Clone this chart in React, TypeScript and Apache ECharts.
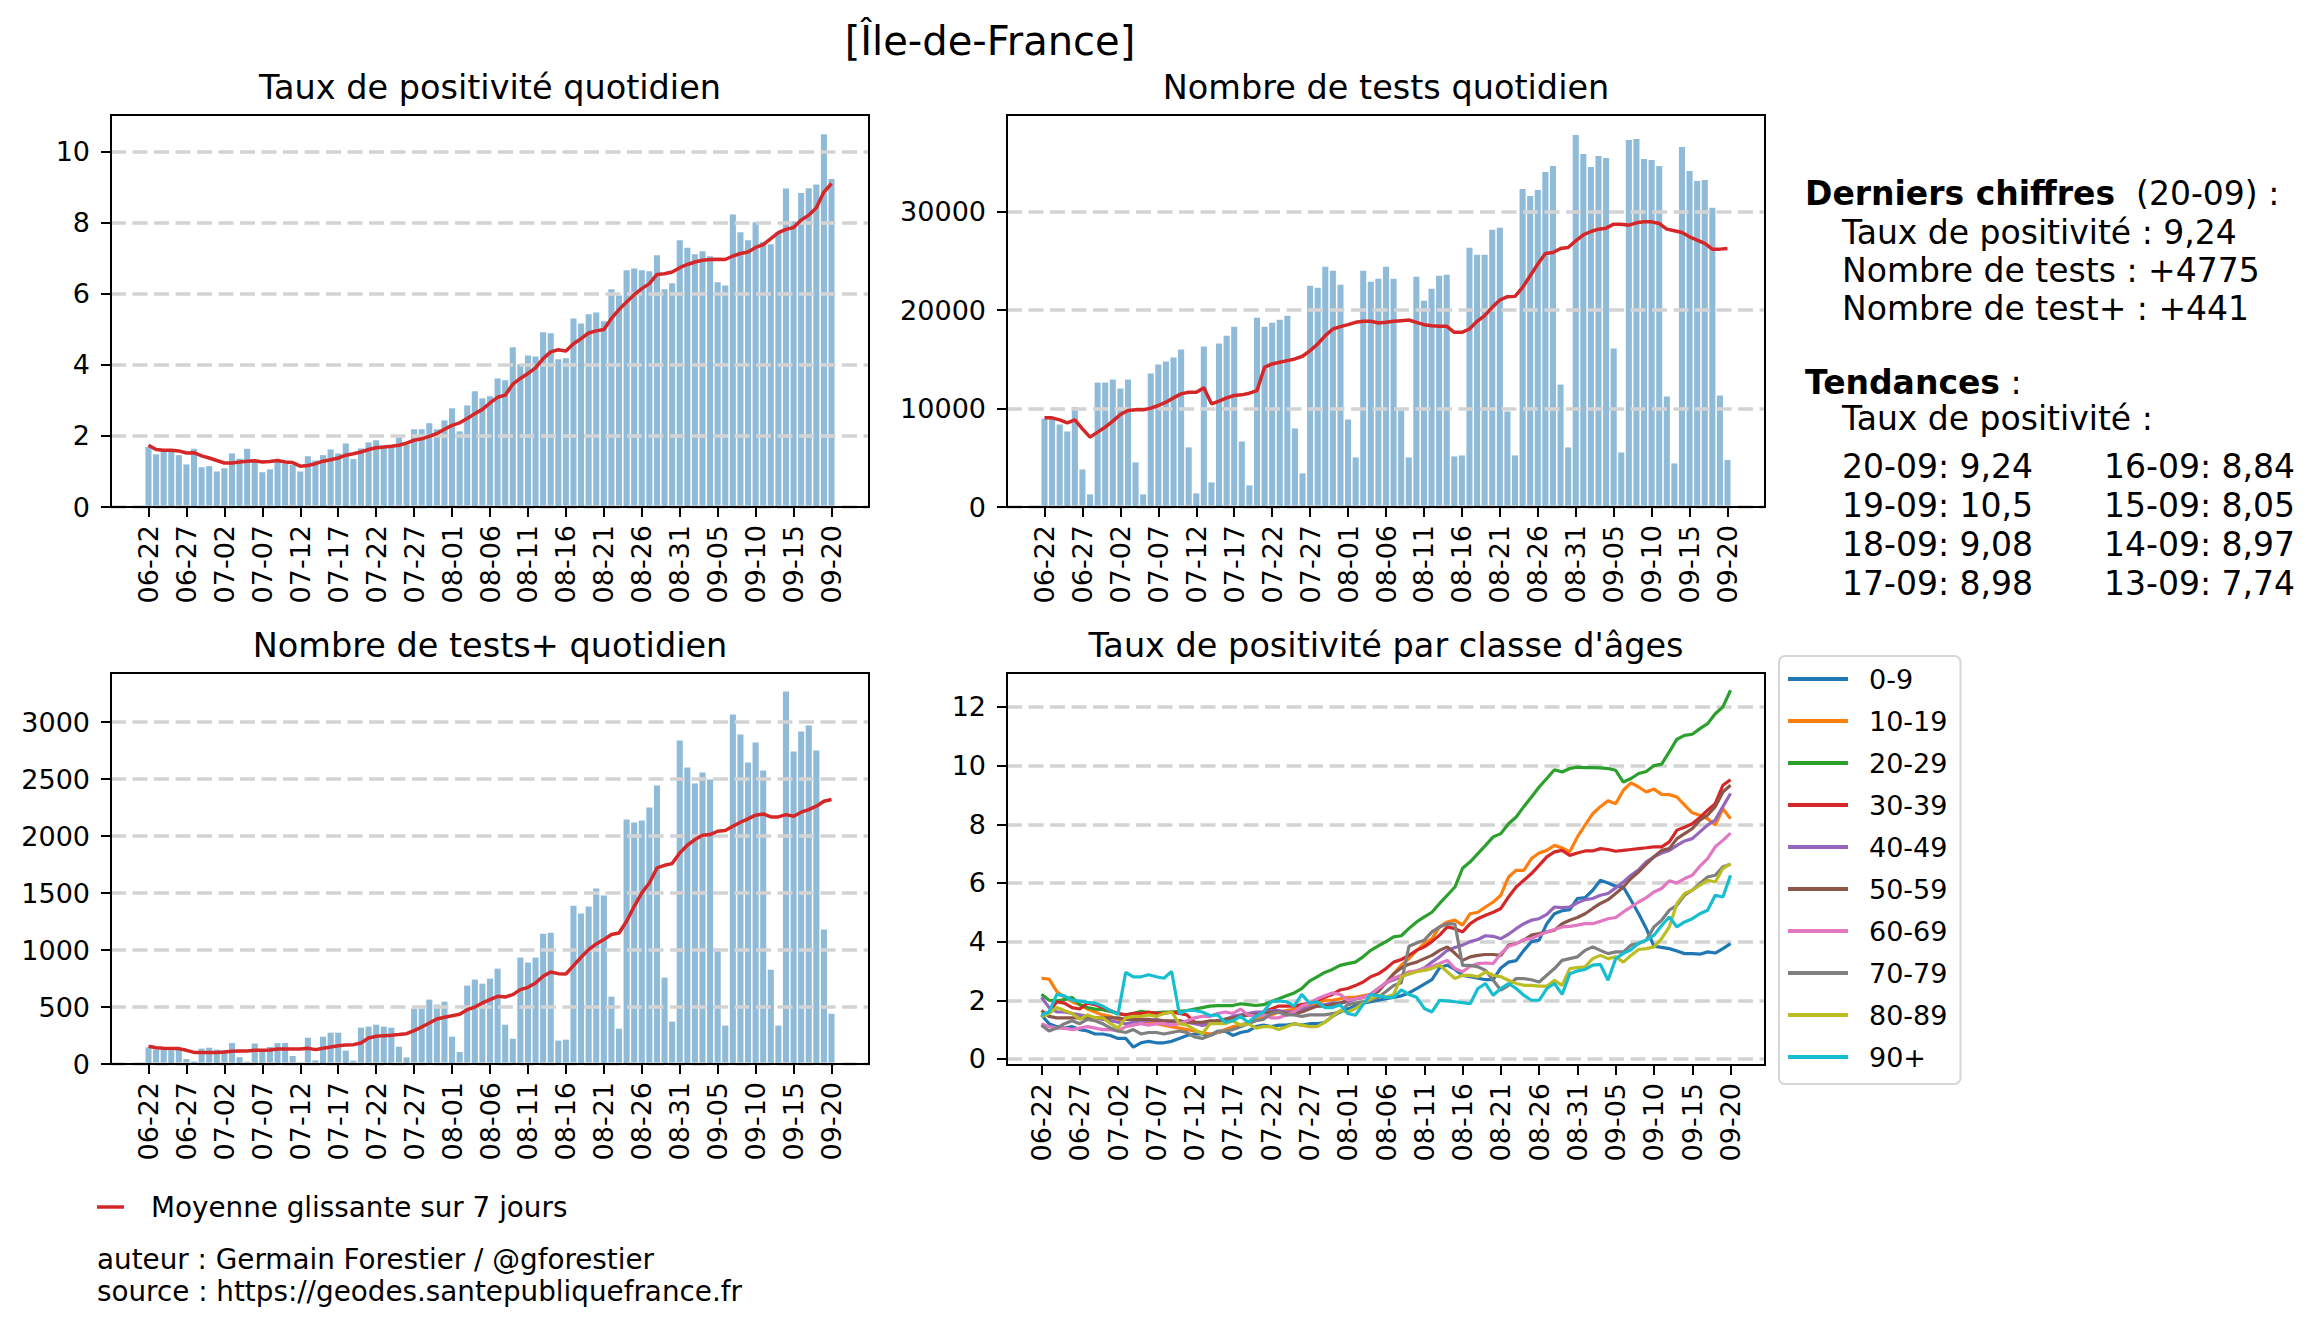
import React, { useEffect, useRef } from "react";
import * as echarts from "echarts";

// ---------- DATA ----------
const START = Date.UTC(2020, 5, 22);
const dates: string[] = Array.from({ length: 91 }, (_, i) => {
  const d = new Date(START + i * 86400000);
  return `${String(d.getUTCMonth() + 1).padStart(2, "0")}-${String(d.getUTCDate()).padStart(2, "0")}`;
});
const xTickIndex = [0, 5, 10, 15, 20, 25, 30, 35, 40, 45, 50, 55, 60, 65, 70, 75, 80, 85, 90];

const tauxTicks = [0, 2, 4, 6, 8, 10];
const testsTicks = [0, 10000, 20000, 30000];
const posTicks = [0, 500, 1000, 1500, 2000, 2500, 3000];
const ageTicks = [0, 2, 4, 6, 8, 10, 12];

const tauxPositivite = [
  1.69, 1.48, 1.6, 1.6, 1.46, 1.2, 1.64, 1.12, 1.15, 1.0,
  1.09, 1.51, 1.36, 1.64, 1.27, 0.98, 1.06, 1.29, 1.22, 1.19,
  1.0, 1.43, 1.31, 1.46, 1.62, 1.51, 1.79, 1.35, 1.65, 1.82,
  1.88, 1.66, 1.72, 1.96, 1.76, 2.19, 2.19, 2.36, 2.19, 2.44,
  2.78, 2.13, 2.86, 3.26, 3.06, 3.12, 3.62, 3.57, 4.5, 4.02,
  4.27, 4.24, 4.92, 4.89, 4.16, 4.19, 5.31, 5.17, 5.43, 5.48,
  5.23, 6.13, 5.96, 6.67, 6.72, 6.67, 6.64, 7.09, 6.13, 6.3,
  7.51, 7.3, 7.12, 7.2, 7.06, 6.33, 6.24, 8.24, 7.74, 7.51,
  8.02, 7.46, 7.4, 7.74, 8.97, 8.05, 8.84, 8.98, 9.08, 10.5,
  9.24,
];
const tauxMoyenne = [
  1.74, 1.62, 1.6, 1.6, 1.58, 1.52, 1.53, 1.44, 1.38, 1.31,
  1.24, 1.24, 1.27, 1.29, 1.3, 1.27, 1.28, 1.31, 1.27, 1.25,
  1.15, 1.17, 1.22, 1.29, 1.33, 1.38, 1.46, 1.5, 1.55, 1.62,
  1.67, 1.69, 1.71, 1.74, 1.8, 1.88, 1.92, 1.99, 2.07, 2.19,
  2.3, 2.37, 2.49, 2.63, 2.75, 2.93, 3.09, 3.15, 3.46, 3.62,
  3.76, 3.92, 4.18, 4.37, 4.43, 4.39, 4.6, 4.74, 4.9, 4.96,
  5.0, 5.31, 5.56, 5.77, 5.98, 6.15, 6.29, 6.55, 6.57, 6.62,
  6.74, 6.83, 6.9, 6.95, 6.97, 6.98, 6.97, 7.07, 7.14, 7.18,
  7.31, 7.39, 7.56, 7.73, 7.82, 7.87, 8.08, 8.22, 8.43, 8.87,
  9.11,
];

const nbTests = [
  8953, 8953, 8378, 7669, 10135, 3818, 1284, 12635, 12635, 12939,
  12027, 12939, 4527, 1284, 13547, 14459, 14763, 15169, 15980, 6047,
  1385, 16284, 2500, 16588, 17399, 18311, 6655, 2196, 19223, 18311,
  18716, 19020, 19426, 7973, 3412, 22466, 22263, 24392, 23986, 22568,
  8885, 5034, 23986, 22872, 23176, 24392, 23176, 9797, 5034, 23378,
  20946, 22162, 23480, 23581, 5135, 5236, 26318, 25608, 25608, 28142,
  28345, 9696, 5236, 32297, 31588, 32196, 34020, 34628, 12432, 6047,
  37770, 35845, 34527, 35642, 35439, 16081, 5541, 37264, 37365, 35338,
  35236, 34628, 11216, 4426, 36554, 34122, 33108, 33209, 30372, 11318,
  4775,
];
const nbTestsMoyenne = [
  9054, 9054, 8851, 8547, 8851, 7939, 7095, 7601, 8108, 8716,
  9392, 9797, 9865, 9865, 10034, 10304, 10642, 11081, 11486, 11655,
  11655, 12095, 10473, 10743, 11081, 11318, 11385, 11554, 11824, 14189,
  14527, 14696, 14865, 15034, 15304, 15878, 16554, 17399, 18074, 18311,
  18514, 18750, 18851, 18851, 18682, 18750, 18851, 18919, 18986, 18750,
  18514, 18412, 18345, 18345, 17736, 17736, 18074, 18851, 19426, 20270,
  21014, 21351, 21385, 22297, 23480, 24662, 25743, 25845, 26250, 26351,
  27027, 27635, 27973, 28209, 28311, 28716, 28716, 28615, 28851, 28953,
  28953, 28784, 28209, 28041, 27872, 27432, 27095, 26757, 26182, 26182,
  26250,
];

const nbPositifs = [
  146, 126, 126, 120, 126, 44, 21, 135, 143, 126,
  120, 184, 60, 21, 179, 126, 149, 184, 184, 70,
  14, 231, 32, 240, 275, 275, 117, 29, 319, 328,
  345, 328, 319, 152, 58, 486, 486, 565, 521, 547,
  240, 105, 688, 741, 705, 749, 837, 345, 222, 934,
  890, 934, 1144, 1153, 205, 214, 1390, 1320, 1382, 1540,
  1478, 591, 310, 2146, 2119, 2137, 2251, 2444, 758, 372,
  2839, 2602, 2462, 2558, 2497, 1013, 337, 3068, 2892, 2646,
  2822, 2576, 828, 337, 3269, 2743, 2918, 2971, 2751, 1180,
  441,
];
const nbPositifsMoyenne = [
  155, 143, 138, 135, 135, 120, 102, 102, 102, 102,
  105, 111, 114, 114, 120, 120, 123, 132, 132, 132,
  132, 138, 126, 138, 149, 161, 167, 170, 184, 228,
  243, 249, 252, 258, 266, 293, 325, 360, 395, 410,
  424, 436, 477, 500, 536, 565, 594, 588, 609, 653,
  673, 711, 770, 808, 793, 790, 863, 937, 1004, 1054,
  1092, 1136, 1150, 1253, 1384, 1502, 1589, 1721, 1744, 1759,
  1853, 1920, 1970, 2008, 2014, 2043, 2049, 2087, 2122, 2151,
  2184, 2195, 2169, 2169, 2189, 2175, 2210, 2233, 2263, 2306,
  2321,
];

const ageClasses = ["0-9", "10-19", "20-29", "30-39", "40-49", "50-59", "60-69", "70-79", "80-89", "90+"];
const age0_9 = [
  1.5, 1.2, 1.1, 1.05, 1.1, 1.0, 0.95, 0.85, 0.85, 0.8,
  0.7, 0.7, 0.4, 0.55, 0.6, 0.55, 0.55, 0.6, 0.7, 0.8,
  0.85, 0.85, 0.8, 0.9, 0.95, 0.8, 0.9, 0.95, 1.1, 1.15,
  1.1, 1.15, 1.15, 1.2, 1.15, 1.2, 1.2, 1.25, 1.45, 1.6,
  1.7, 1.8, 1.9, 1.95, 2.0, 2.05, 2.1, 2.15, 2.25, 2.4,
  2.55, 2.7, 3.1, 3.2, 3.05, 2.85, 2.8, 2.75, 2.7, 2.7,
  3.1, 3.3, 3.35, 3.7, 4.0, 4.05, 4.61, 4.95, 5.05, 5.09,
  5.47, 5.5, 5.75, 6.09, 6.0, 5.89, 5.86, 5.41, 4.95, 4.44,
  3.84, 3.8, 3.76, 3.68, 3.59, 3.59, 3.57, 3.65, 3.61, 3.76,
  3.93,
];
const age10_19 = [
  2.75, 2.72, 2.3, 2.1, 1.95, 1.85, 1.7, 1.6, 1.5, 1.45,
  1.35, 1.35, 1.35, 1.3, 1.25, 1.2, 1.15, 1.1, 1.05, 1.0,
  0.95, 0.9, 0.85, 0.9, 1.0, 1.1, 1.15, 1.25, 1.35, 1.4,
  1.5, 1.6, 1.65, 1.7, 1.8, 1.85, 1.9, 2.0, 2.0, 2.05,
  2.1, 2.1, 2.15, 2.2, 2.4, 2.57, 2.9, 3.2, 3.42, 3.7,
  3.93, 4.1, 4.5, 4.67, 4.73, 4.56, 4.95, 5.0, 5.18, 5.35,
  5.58, 6.2, 6.43, 6.43, 6.83, 7.02, 7.11, 7.28, 7.19, 7.06,
  7.57, 7.97, 8.36, 8.6, 8.8, 8.7, 9.16, 9.41, 9.27, 9.1,
  9.2, 9.02, 9.01, 8.93, 8.65, 8.39, 8.31, 8.19, 7.97, 8.53,
  8.19,
];
const age20_29 = [
  2.2, 2.0, 1.98, 2.02, 2.1, 1.85, 1.75, 1.7, 1.68, 1.62,
  1.55, 1.5, 1.55, 1.62, 1.58, 1.58, 1.6, 1.6, 1.62, 1.65,
  1.7, 1.75, 1.8, 1.82, 1.82, 1.82, 1.88, 1.85, 1.82, 1.85,
  1.95, 2.05, 2.15, 2.25, 2.4, 2.65, 2.8, 2.95, 3.05, 3.19,
  3.25, 3.3, 3.48, 3.7, 3.85, 4.0, 4.16, 4.2, 4.45, 4.67,
  4.84, 5.0, 5.3, 5.58, 5.86, 6.5, 6.72, 7.0, 7.28, 7.57,
  7.68, 8.02, 8.25, 8.6, 8.93, 9.27, 9.56, 9.86, 9.78, 9.9,
  9.95, 9.93, 9.93, 9.92, 9.9, 9.84, 9.44, 9.56, 9.73, 9.8,
  10.0, 10.05, 10.47, 10.9, 11.03, 11.07, 11.26, 11.43, 11.77, 12.0,
  12.57,
];
const age30_39 = [
  1.45, 1.6, 1.95, 1.9, 1.75, 1.7, 1.9, 1.85, 1.75, 1.65,
  1.55, 1.5, 1.55, 1.55, 1.6, 1.55, 1.55, 1.6, 1.55, 1.5,
  1.25, 1.15, 1.2, 1.3, 1.35, 1.4, 1.45, 1.5, 1.55, 1.6,
  1.7, 1.8, 1.8, 1.8, 1.85, 1.9, 2.0, 2.1, 2.2, 2.35,
  2.4, 2.5, 2.62, 2.8, 2.9, 3.08, 3.3, 3.39, 3.53, 3.7,
  3.82, 4.0, 4.22, 4.5, 4.44, 4.33, 4.61, 4.78, 4.9, 5.0,
  5.13, 5.52, 5.86, 6.09, 6.32, 6.6, 6.89, 7.06, 7.11, 6.94,
  7.02, 7.09, 7.09, 7.17, 7.14, 7.08, 7.11, 7.14, 7.17, 7.2,
  7.23, 7.23, 7.4, 7.8, 7.9, 8.02, 8.23, 8.48, 8.7, 9.33,
  9.52,
];
const age40_49 = [
  2.1, 1.75, 1.6, 1.6, 1.55, 1.5, 1.45, 1.4, 1.35, 1.3,
  1.25, 1.2, 1.25, 1.3, 1.3, 1.35, 1.3, 1.25, 1.3, 1.25,
  1.2, 1.15, 1.2, 1.3, 1.35, 1.45, 1.5, 1.55, 1.6, 1.6,
  1.65, 1.65, 1.6, 1.6, 1.7, 1.75, 1.8, 1.85, 1.9, 1.9,
  1.95, 2.05, 2.1, 2.2, 2.4, 2.6, 2.7, 2.8, 2.9, 3.0,
  3.1, 3.3, 3.48, 3.7, 3.8, 3.88, 4.0, 4.07, 4.2, 4.18,
  4.1, 4.25, 4.44, 4.61, 4.73, 4.78, 4.93, 5.18, 5.16, 5.18,
  5.32, 5.43, 5.47, 5.58, 5.64, 5.83, 6.03, 6.26, 6.45, 6.72,
  6.89, 7.02, 7.11, 7.28, 7.43, 7.51, 7.74, 7.97, 8.14, 8.6,
  9.05,
];
const age50_59 = [
  1.65, 1.45, 1.4, 1.4, 1.4, 1.4, 1.4, 1.4, 1.4, 1.4,
  1.4, 1.35, 1.35, 1.35, 1.35, 1.3, 1.3, 1.3, 1.3, 1.25,
  1.25, 1.25, 1.3, 1.3, 1.35, 1.4, 1.45, 1.5, 1.5, 1.55,
  1.6, 1.6, 1.55, 1.55, 1.6, 1.7, 1.8, 1.8, 1.85, 1.9,
  2.0, 2.05, 2.1, 2.2, 2.3, 2.6, 2.9, 3.1, 3.23, 3.3,
  3.42, 3.53, 3.7, 3.82, 3.6, 3.36, 3.48, 3.53, 3.56, 3.56,
  3.53, 3.88, 3.93, 4.05, 4.22, 4.27, 4.33, 4.39, 4.61, 4.73,
  4.82, 4.95, 5.13, 5.3, 5.43, 5.64, 5.86, 6.15, 6.38, 6.64,
  6.89, 7.11, 7.17, 7.51, 7.68, 7.85, 8.14, 8.31, 8.6, 9.1,
  9.33,
];
const age60_69 = [
  1.2, 1.1, 1.05, 1.05, 1.0, 1.05, 1.1, 1.05, 1.0, 1.0,
  0.95, 1.1, 1.15, 1.2, 1.15, 1.2, 1.2, 1.15, 1.2, 1.3,
  1.4, 1.45, 1.45, 1.55, 1.6, 1.55, 1.7, 1.5, 1.45, 1.5,
  1.4, 1.4, 1.5, 1.6, 1.8, 1.9, 2.05, 2.15, 2.25, 2.2,
  2.0, 2.05, 2.1, 2.2, 2.4, 2.6, 2.75, 2.85, 2.97, 3.0,
  3.08, 3.15, 3.25, 3.36, 3.08, 2.97, 3.16, 3.25, 3.27, 3.25,
  3.59, 3.84, 3.93, 4.07, 4.1, 4.22, 4.33, 4.41, 4.5, 4.52,
  4.56, 4.61, 4.61, 4.69, 4.78, 4.82, 5.01, 5.18, 5.35, 5.5,
  5.69, 5.81, 6.07, 6.0, 6.15, 6.26, 6.57, 6.83, 7.23, 7.45,
  7.7,
];
const age70_79 = [
  1.15, 0.95, 1.05, 1.2, 1.3, 1.2, 1.35, 1.3, 1.2, 1.05,
  0.95, 0.9, 1.0, 0.85, 0.9, 0.9, 0.85, 0.9, 0.95, 0.9,
  0.75, 0.7, 0.8, 0.95, 0.95, 1.0, 1.1, 1.2, 1.3, 1.35,
  1.55, 1.6, 1.5, 1.5, 1.45, 1.5, 1.5, 1.5, 1.55, 1.6,
  1.85, 1.9, 1.95, 2.0, 2.1, 2.3, 2.5, 2.6, 3.84, 3.95,
  4.05, 4.33, 4.5, 4.61, 4.6, 3.19, 3.19, 3.14, 3.02, 2.68,
  2.34, 2.51, 2.74, 2.74, 2.7, 2.62, 2.85, 3.08, 3.36, 3.42,
  3.48, 3.7, 3.82, 3.7, 3.59, 3.65, 3.65, 3.88, 3.93, 4.05,
  4.5, 4.73, 5.07, 5.24, 5.58, 5.75, 5.98, 6.2, 6.26, 6.55,
  6.64,
];
const age80_89 = [
  1.45, 1.55, 1.75, 1.65, 1.55, 1.35, 1.5, 1.4, 1.4, 1.2,
  1.05, 1.4, 1.45, 1.45, 1.5, 1.45, 1.55, 1.6, 1.2, 1.15,
  1.0, 0.85, 1.2, 1.2, 1.2, 1.3, 1.15, 1.2, 1.05, 1.1,
  1.1, 1.0, 1.1, 1.2, 1.15, 1.1, 1.1, 1.25, 1.45, 1.65,
  1.6, 1.72, 1.89, 2.05, 2.17, 2.1, 2.2, 2.8, 2.9, 2.97,
  3.02, 3.08, 3.19, 2.97, 2.74, 2.85, 2.85, 2.8, 2.97, 2.85,
  2.8, 2.68, 2.57, 2.51, 2.51, 2.48, 2.48, 2.68, 2.51, 3.08,
  3.11, 3.14, 3.42, 3.53, 3.42, 3.48, 3.3, 3.53, 3.73, 3.76,
  3.82, 4.1, 4.5, 5.3, 5.64, 5.75, 5.92, 6.09, 6.03, 6.49,
  6.66,
];
const age90p = [
  1.5, 1.6, 2.2, 2.15, 2.0, 1.97, 1.93, 1.9, 1.8, 1.65,
  1.52, 2.95, 2.8, 2.8, 2.87, 2.8, 2.75, 2.98, 1.55, 1.65,
  1.65, 1.6, 1.48, 1.5, 1.25, 1.3, 1.45, 1.25, 1.45, 1.6,
  1.95, 1.98, 1.95, 1.8, 2.2, 1.9, 1.95, 1.75, 1.75, 1.85,
  1.55, 1.49, 1.85, 2.2, 2.15, 2.1, 2.1, 2.35, 2.2, 2.1,
  1.72, 1.6, 2.0, 1.98, 1.95, 1.92, 1.88, 2.4, 2.57, 2.17,
  2.4, 2.57, 2.4, 2.17, 2.0, 2.0, 2.4, 2.57, 2.2, 2.9,
  3.0, 3.05, 3.2, 3.22, 2.68, 3.42, 3.6, 3.72, 3.95, 4.05,
  4.22, 4.55, 4.84, 4.5, 4.67, 4.78, 4.95, 5.07, 5.58, 5.52,
  6.26,
];
const ageSeries = [age0_9, age10_19, age20_29, age30_39, age40_49, age50_59, age60_69, age70_79, age80_89, age90p];

// ---------- STYLE / LAYOUT ----------
const FONT = "'DejaVu Sans', sans-serif";
const BAR = "#8fbbd9";
const RED = "#d62728";
const GRIDLINE = "#d3d3d3";
const TAB10 = ["#1f77b4", "#ff7f0e", "#2ca02c", "#d62728", "#9467bd", "#8c564b", "#e377c2", "#7f7f7f", "#bcbd22", "#17becf"];
const grids = [
  { left: 111, top: 115, width: 758, height: 392 },
  { left: 1007, top: 115, width: 758, height: 392 },
  { left: 111, top: 673, width: 758, height: 391 },
  { left: 1007, top: 673, width: 758, height: 392 },
];
const xExt = [[-4.94, 94.94], [-4.94, 94.94], [-4.94, 94.94], [-4.5, 94.5]];
const yExt = [[0, 11.04], [0, 39800], [0, 3432], [-0.2075, 13.157]];
const yTicks = [tauxTicks, testsTicks, posTicks, ageTicks];

const fr = (v: number) => String(v).replace(".", ",");
const dayMonth = (d: string) => d.split("-").reverse().join("-");

function gridMarkLine(ticks: number[]) {
  return {
    silent: true,
    symbol: ["none", "none"],
    label: { show: false },
    emphasis: { disabled: true },
    lineStyle: { color: GRIDLINE, type: [15, 6.5], width: 3.5 },
    data: ticks.map((t) => ({ yAxis: t })),
    z: 5,
  };
}

function buildOption() {
  const tickLabelStyle = { fontSize: 27, color: "#000", fontFamily: FONT };
  const xAxis = grids.map((_, k) => ({
    type: "value",
    gridIndex: k,
    position: "bottom",
    min: xExt[k][0],
    max: xExt[k][1],
    z: 10,
    axisLine: { show: false, onZero: false },
    splitLine: { show: false },
    axisTick: { show: true, inside: false, length: 10, lineStyle: { color: "#000", width: 2 }, customValues: xTickIndex },
    axisLabel: {
      ...tickLabelStyle,
      customValues: xTickIndex,
      rotate: 90,
      margin: 18,
      formatter: (v: number) => dates[Math.round(v)] ?? "",
    },
  }));
  const yAxis = grids.map((_, k) => ({
    type: "value",
    gridIndex: k,
    position: "left",
    min: yExt[k][0],
    max: yExt[k][1],
    z: 10,
    axisLine: { show: false, onZero: false },
    splitLine: { show: false },
    axisTick: { show: true, inside: false, length: 10, lineStyle: { color: "#000", width: 2 }, customValues: yTicks[k] },
    axisLabel: { ...tickLabelStyle, customValues: yTicks[k], margin: 21, formatter: (v: number) => String(v) },
  }));

  const barPanels = [
    [tauxPositivite, tauxMoyenne],
    [nbTests, nbTestsMoyenne],
    [nbPositifs, nbPositifsMoyenne],
  ];
  const series: any[] = [];
  barPanels.forEach(([bars, avg], k) => {
    const bw = (0.8 * grids[k].width) / (xExt[k][1] - xExt[k][0]);
    series.push({
      type: "bar",
      xAxisIndex: k,
      yAxisIndex: k,
      data: bars.map((v, i) => [i, v]),
      barWidth: bw,
      itemStyle: { color: BAR },
      z: 2,
      silent: true,
      markLine: gridMarkLine(yTicks[k]),
    });
    series.push({
      type: "line",
      xAxisIndex: k,
      yAxisIndex: k,
      data: avg.map((v, i) => [i, v]),
      showSymbol: false,
      symbol: "none",
      lineStyle: { color: RED, width: 3.5 },
      itemStyle: { color: RED },
      z: 6,
      silent: true,
    });
  });
  ageSeries.forEach((arr, j) => {
    const s: any = {
      type: "line",
      name: ageClasses[j],
      xAxisIndex: 3,
      yAxisIndex: 3,
      data: arr.map((v, i) => [i, v]),
      showSymbol: false,
      symbol: "none",
      lineStyle: { color: TAB10[j], width: 3.2 },
      itemStyle: { color: TAB10[j] },
      z: 6,
      silent: true,
    };
    if (j === 0) s.markLine = gridMarkLine(ageTicks);
    series.push(s);
  });

  const titleBase = { textAlign: "center", textVerticalAlign: "middle", padding: 0 };
  const tStyle = (size: number) => ({ fontSize: size, fontWeight: "normal", color: "#000", fontFamily: FONT });
  const title = [
    { ...titleBase, text: "[Île-de-France]", left: 990, top: 41, textStyle: tStyle(40) },
    { ...titleBase, text: "Taux de positivité quotidien", left: 490, top: 87, textStyle: tStyle(33.5) },
    { ...titleBase, text: "Nombre de tests quotidien", left: 1386, top: 87, textStyle: tStyle(33.5) },
    { ...titleBase, text: "Nombre de tests+ quotidien", left: 490, top: 645, textStyle: tStyle(33.5) },
    { ...titleBase, text: "Taux de positivité par classe d'âges", left: 1386, top: 645, textStyle: tStyle(33.5) },
  ];

  const last = tauxPositivite.length - 1;
  const txt = (x: number, y: number, text: string, size: number, rich?: any) => ({
    type: "text",
    x,
    y,
    silent: true,
    style: {
      text,
      fontSize: size,
      fontFamily: FONT,
      fill: "#000",
      align: "left",
      verticalAlign: "middle",
      textAlign: "left",
      textVerticalAlign: "middle",
      ...(rich ? { rich } : {}),
    },
  });
  const boldRich = { b: { fontSize: 33, fontWeight: "bold", fontFamily: FONT, fill: "#000" } };
  const trendRows = [0, 1, 2, 3];
  const graphic: any[] = [
    txt(1805, 193, `{b|Derniers chiffres}  (${dayMonth(dates[last])}) :`, 33, boldRich),
    txt(1842, 232, `Taux de positivité : ${fr(tauxPositivite[last])}`, 33),
    txt(1842, 270, `Nombre de tests : +${nbTests[last]}`, 33),
    txt(1842, 308, `Nombre de test+ : +${nbPositifs[last]}`, 33),
    txt(1805, 382, `{b|Tendances} :`, 33, boldRich),
    txt(1842, 418, `Taux de positivité :`, 33),
    ...trendRows.map((r) =>
      txt(1842, 466 + r * 39, `${dayMonth(dates[last - r])}: ${fr(tauxPositivite[last - r])}`, 33)
    ),
    ...trendRows.map((r) =>
      txt(2104, 466 + r * 39, `${dayMonth(dates[last - 4 - r])}: ${fr(tauxPositivite[last - 4 - r])}`, 33)
    ),
    {
      type: "line",
      silent: true,
      shape: { x1: 97, y1: 1207, x2: 124, y2: 1207 },
      style: { stroke: RED, lineWidth: 3.5 },
    },
    txt(151, 1207, "Moyenne glissante sur 7 jours", 27.8),
    txt(97, 1259, "auteur : Germain Forestier / @gforestier", 27.8),
    txt(97, 1291, "source : https://geodes.santepubliquefrance.fr", 27.8),
  ];

  return {
    animation: false,
    backgroundColor: "#ffffff",
    title,
    grid: grids.map((g) => ({
      ...g,
      show: true,
      z: 10,
      borderColor: "#000",
      borderWidth: 2,
      backgroundColor: "transparent",
      containLabel: false,
    })),
    xAxis,
    yAxis,
    legend: {
      data: ageClasses,
      orient: "vertical",
      left: 1779,
      top: 656,
      padding: [9, 13, 13, 9],
      itemWidth: 60,
      itemHeight: 4,
      itemGap: 14,
      icon: "rect",
      selectedMode: false,
      backgroundColor: "#ffffff",
      borderColor: "#d6d6d6",
      borderWidth: 2,
      borderRadius: 6,
      textStyle: { fontSize: 27, fontFamily: FONT, color: "#000", lineHeight: 28, padding: [0, 0, 0, 16] },
    },
    series,
    graphic,
  };
}

export default function App() {
  const ref = useRef<HTMLDivElement>(null);
  useEffect(() => {
    if (!ref.current) return;
    const chart = echarts.init(ref.current, undefined, { renderer: "svg" });
    chart.setOption(buildOption() as any);
    return () => chart.dispose();
  }, []);
  return (
    <div
      ref={ref}
      style={{ position: "absolute", left: 0, top: 0, width: 2319, height: 1326, background: "#fff" }}
    />
  );
}
